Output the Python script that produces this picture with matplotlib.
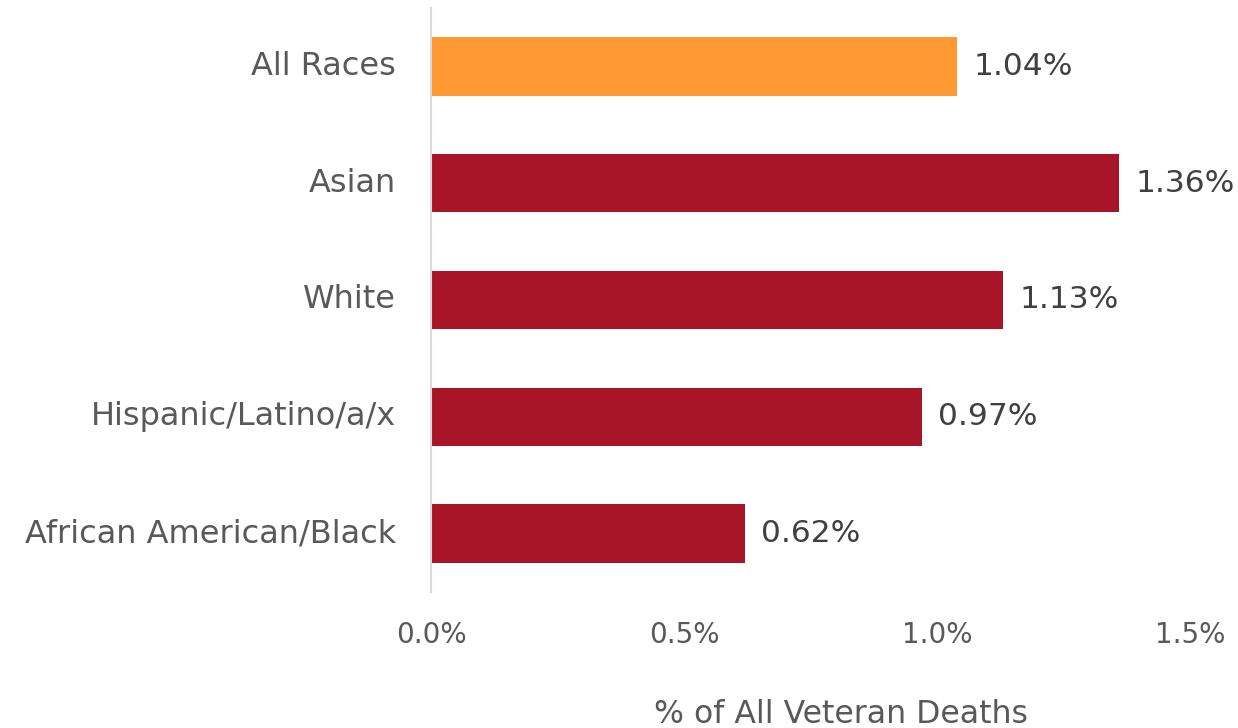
import matplotlib
matplotlib.use("Agg")
import matplotlib.pyplot as plt
import numpy as np

# data, top to bottom
groups = ['All Races', 'Asian', 'White', 'Hispanic/Latino/a/x', 'African American/Black']
values = [1.04, 1.36, 1.13, 0.97, 0.62]
colors = ['#FF9933', '#A81428', '#A81428', '#A81428', '#A81428']
ticks = [0.0, 0.5, 1.0, 1.5]

plt.rcParams['font.family'] = ['DejaVu Sans']

fig = plt.figure(figsize=(12.38, 7.28), dpi=100)
ax = fig.add_axes([431/1238, 1 - 592/728, (1190 - 431)/1238, (592 - 8)/728])

y = np.arange(len(groups))
ax.barh(y, values, height=0.5, color=colors)
ax.set_ylim(len(groups) - 0.5, -0.5)
ax.set_xlim(0, 1.5)

# value labels
for yi, v in zip(y, values):
    ax.annotate(f'{v:.2f}%', (v, yi), xytext=(12, 0), textcoords='offset points',
                va='center', ha='left', fontsize=22.5, color='#404040')

ax.set_yticks(y)
ax.set_yticklabels(groups, fontsize=23, color='#595959', va='center')
ax.set_xticks(ticks)
ax.set_xticklabels([f'{t:.1f}%' for t in ticks], fontsize=20, color='#595959')
ax.tick_params(axis='both', length=0)
ax.tick_params(axis='y', pad=25)
ax.tick_params(axis='x', pad=21)

for s in ['top', 'right', 'bottom']:
    ax.spines[s].set_visible(False)
ax.spines['left'].set_color('#D9D9D9')
ax.spines['left'].set_linewidth(1.5)

fig.text(841/1238, 1 - 723/728, '% of All Veteran Deaths', ha='center', va='baseline',
         fontsize=22.7, color='#595959')

fig.savefig('out.png', dpi=100)
